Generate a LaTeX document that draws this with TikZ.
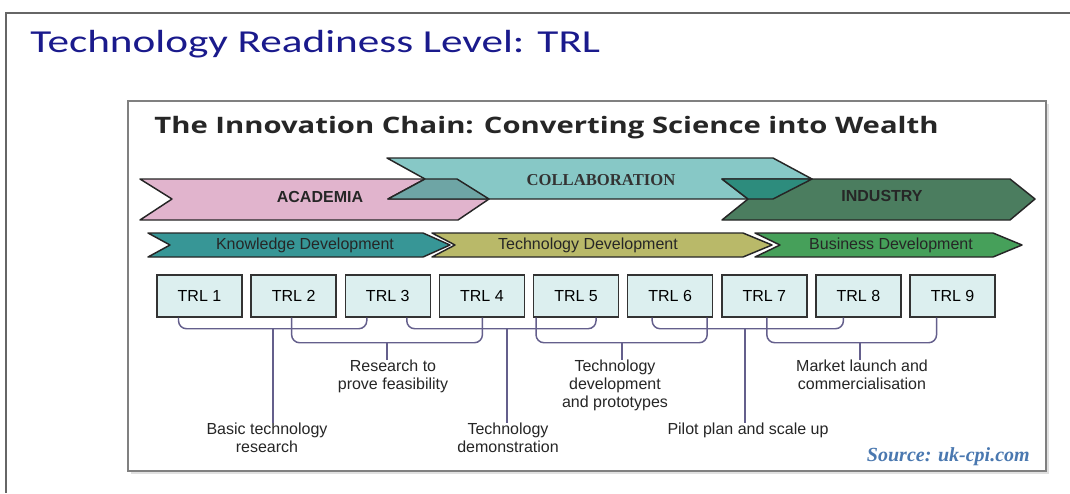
\documentclass[tikz,border=0pt]{standalone}
\usepackage{fontspec}
\setmainfont{Liberation Sans}
\newfontfamily\slidefont{Carlito}
\newfontfamily\headfont{Open Sans}
\newfontfamily\srcfont{Liberation Serif}
\usetikzlibrary{calc, positioning}
\usepackage{xcolor}
\definecolor{titleblue}{HTML}{1A1A8C}
\definecolor{acadpink}{HTML}{E1B4CD}
\definecolor{collabcyan}{HTML}{87C8C6}
\definecolor{indgreen}{HTML}{4B7D5F}
\definecolor{ovA}{HTML}{6EA5A5}
\definecolor{ovB}{HTML}{2D8C7D}
\definecolor{knowteal}{HTML}{379696}
\definecolor{techolive}{HTML}{B9B969}
\definecolor{busgreen}{HTML}{46A05A}
\definecolor{trlfill}{HTML}{DCEFEF}
\definecolor{brkcol}{HTML}{645F8C}
\definecolor{srcblue}{HTML}{4A78B0}
\tikzset{
  frame/.style   ={draw=black!60, line width=1.6pt},
  panel/.style   ={draw=black!50, line width=1.4pt},
  band/.style    ={draw=black!85, line width=1.1pt, line join=round},
  bandtxt/.style ={inner sep=0pt, font=\fontsize{12}{14}\selectfont, text=black!85},
  trl/.style     ={draw=black!80, fill=trlfill, line width=1.1pt, minimum width=63.75pt, minimum height=31.5pt, inner sep=0pt, font=\fontsize{12}{14}\selectfont},
  brk/.style     ={draw=brkcol, line width=1.1pt, rounded corners=6pt},
  stem/.style    ={draw=brkcol, line width=1.1pt},
  lbl/.style     ={inner sep=0pt, align=center, font=\fontsize{12}{13.5}\selectfont, text=black!85},
}

\begin{document}
\begin{tikzpicture}[x=0.75pt, y=-0.75pt, node distance=5.75pt]
  \useasboundingbox (0,0) rectangle (1070,493);
  % slide
  \draw[frame] (1070,13) -- (6,13) -- (6,493);
  \node[anchor=base west, inner sep=0pt, text=titleblue, font=\slidefont\fontsize{24}{28}\selectfont] (ttl) at (30,52)
    {\scalebox{1.35}[1]{Technology Readiness Level: TRL}};

  % panel
  \fill[black!12] (131,104) rectangle (1049,474);
  \draw[panel, fill=white] (128,101) rectangle (1046,471);
  \node[anchor=base, inner sep=0pt, text=black!85, font=\headfont\bfseries\fontsize{17}{20}\selectfont] (chain) at (546.5,133)
    {\scalebox{1.29}[1]{The Innovation Chain: Converting Science into Wealth}};

  % academia / collaboration / industry
  \draw[band, fill=acadpink] (140,179) -- (457,179) -- (489,199) -- (458,220) -- (140,220) -- (172,199) -- cycle;
  \draw[band, fill=collabcyan] (387,158) -- (773,158) -- (812,179) -- (773,199) -- (388,199) -- (425,179) -- cycle;
  \draw[band, fill=indgreen] (722,179) -- (1010,179) -- (1035,199) -- (1010,220) -- (722,220) -- (748,199) -- cycle;
  \draw[band, fill=ovA] (425,179) -- (457,179) -- (489,199) -- (388,199) -- cycle;
  \draw[band, fill=ovB] (722,179) -- (812,179) -- (773,199) -- (748,199) -- cycle;
  \node[bandtxt, font=\bfseries\fontsize{12}{14}\selectfont] (acad) at (320,197) {ACADEMIA};
  \node[bandtxt, font=\srcfont\bfseries\fontsize{12.5}{14}\selectfont, text=black!80] (collab) at (601,180) {COLLABORATION};
  \node[bandtxt, font=\bfseries\fontsize{12}{14}\selectfont] (ind) at (882,196) {INDUSTRY};

  % development stages
  \draw[band, fill=knowteal] (148,233) -- (423,233) -- (450,245) -- (423,257) -- (148,257) -- (170,245) -- cycle;
  \draw[band, fill=techolive] (432,233) -- (743,233) -- (772,245) -- (743,257) -- (432,257) -- (455,245) -- cycle;
  \draw[band, fill=busgreen] (755,233) -- (993,233) -- (1022,245) -- (993,257) -- (755,257) -- (780,245) -- cycle;
  \node[bandtxt] (know) at (305,245) {Knowledge Development};
  \node[bandtxt] (tech) at (588,245) {Technology Development};
  \node[bandtxt] (bus) at (891,245) {Business Development};

  % TRL boxes
  \node[trl] (t1) at (199.5,296) {TRL 1}; \node[trl, right=of t1] (t2) {TRL 2};
  \node[trl, right=of t2] (t3) {TRL 3}; \node[trl, right=of t3] (t4) {TRL 4};
  \node[trl, right=of t4] (t5) {TRL 5}; \node[trl, right=of t5] (t6) {TRL 6};
  \node[trl, right=of t6] (t7) {TRL 7}; \node[trl, right=of t7] (t8) {TRL 8};
  \node[trl, right=of t8] (t9) {TRL 9};

  % brackets
  \draw[brk] ($(t1.south)+(-21,0)$) -- ++(0,11) -| ($(t3.south)+(-21,0)$);
  \draw[brk] ($(t2.south)+(-2,0)$) -- ++(0,25) -| ($(t4.south)+(0.5,0)$);
  \draw[brk] ($(t3.south)+(19,0)$) -- ++(0,11) -| ($(t5.south)+(20,0)$);
  \draw[brk] ($(t5.south)+(-40,0)$) -- ++(0,25) -| ($(t6.south)+(37,0)$);
  \draw[brk] ($(t6.south)+(-18,0)$) -- ++(0,11) -| ($(t8.south)+(-15,0)$);
  \draw[brk] ($(t7.south)+(2.5,0)$) -- ++(0,25) -| ($(t9.south)+(-16,0)$);
  \coordinate (sa) at (273,328); \coordinate (sb) at (387,342);
  \coordinate (sc) at (507,328); \coordinate (sd) at (622,342);
  \coordinate (se) at (745,328); \coordinate (sf) at (860,342);

  % stage labels
  \node[lbl, anchor=north] (lb1) at (267,423) {Basic technology\\research};
  \node[lbl, anchor=north] (lb2) at (393,360) {Research to\\prove feasibility};
  \node[lbl, anchor=north] (lb3) at (508,423) {Technology\\demonstration};
  \node[lbl, anchor=north] (lb4) at (615,360) {Technology\\development\\and prototypes};
  \node[lbl, anchor=north] (lb5) at (748,423) {Pilot plan and scale up};
  \node[lbl, anchor=north] (lb6) at (862,360) {Market launch and\\commercialisation};
  \draw[stem] (sa) -- (sa |- lb1.north); \draw[stem] (sb) -- (sb |- lb2.north);
  \draw[stem] (sc) -- (sc |- lb3.north); \draw[stem] (sd) -- (sd |- lb4.north);
  \draw[stem] (se) -- (se |- lb5.north); \draw[stem] (sf) -- (sf |- lb6.north);

  \node[anchor=east, inner sep=0pt, text=srcblue, font=\srcfont\bfseries\itshape\fontsize{15}{18}\selectfont] (src) at (1030,457)
    {Source: uk-cpi.com};
\end{tikzpicture}
\end{document}
